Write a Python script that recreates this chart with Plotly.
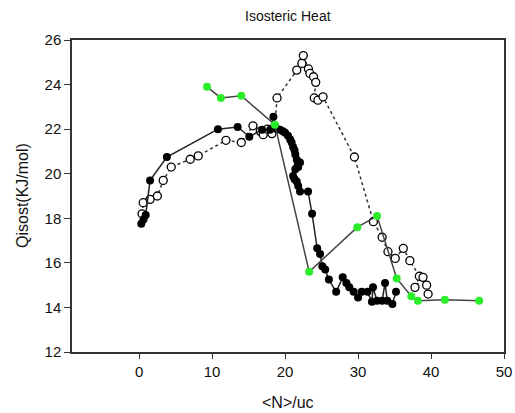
import plotly.graph_objects as go

# Filled black series (solid line)
black_x = [0.3, 0.6, 0.9, 1.5, 3.8, 10.8, 13.5, 15.1, 16.85, 17.95, 18.4, 18.9, 19.3, 19.7, 20.0, 20.4, 20.7, 20.9, 21.1, 21.3,
           21.4, 21.6, 21.8, 22.05, 21.7, 21.4, 21.1, 21.3, 21.6, 21.8, 22.05, 23.15, 23.7, 24.4, 24.8, 25.1, 25.5, 26.0,
           27.0, 27.9, 28.4, 28.8, 29.4, 30.0, 30.5, 31.3, 31.9, 32.05, 32.6, 33.3, 33.7, 34.0, 34.7, 35.2]
black_y = [17.75, 17.95, 18.15, 19.7, 20.75, 22.0, 22.1, 21.66, 21.97, 21.97, 22.56, 22.0, 21.97, 21.9, 21.84, 21.7, 21.53, 21.4,
           21.2, 21.05, 20.86, 20.63, 20.3, 20.5, 20.35, 20.2, 19.9, 19.75, 19.65, 19.45, 19.2, 19.2, 18.2, 16.65, 16.4,
           15.85, 15.7, 15.25, 14.7, 15.35, 15.1, 14.9, 14.7, 14.45, 14.7, 14.7, 14.25, 14.9, 14.3, 14.3, 15.1, 14.3, 14.15, 14.7]

# Open circle series (dotted line)
open_x = [0.4, 0.55, 1.5, 2.5, 3.3, 4.4, 7.0, 8.1, 11.9, 14.0, 15.6, 16.6, 17.0, 17.6, 18.2, 18.6, 18.9, 21.6, 22.3, 22.5,
          23.2, 23.4, 23.9, 24.2, 24.0, 24.5, 25.2, 29.5, 32.1, 33.3, 34.1, 35.1, 36.2, 37.1, 38.4, 37.8, 38.9, 39.4, 39.6]
open_y = [18.2, 18.7, 18.85, 19.0, 19.7, 20.3, 20.65, 20.8, 21.5, 21.4, 22.15, 21.9, 21.75, 22.0, 21.8, 22.1, 23.4, 24.65, 24.95, 25.3,
          24.7, 24.5, 24.35, 24.1, 23.4, 23.3, 23.45, 20.75, 17.85, 17.15, 16.5, 16.2, 16.65, 16.1, 15.4, 14.9, 15.35, 15.0, 14.6]

# Green series (solid line)
green_x = [9.3, 11.2, 14.0, 18.6, 23.3, 29.9, 32.6, 35.3, 37.3, 38.2, 41.9, 46.6]
green_y = [23.9, 23.4, 23.5, 22.2, 15.6, 17.6, 18.1, 15.3, 14.5, 14.3, 14.35, 14.3]

x_ticks = [0, 10, 20, 30, 40, 50]
y_ticks = [12, 14, 16, 18, 20, 22, 24, 26]

fig = go.Figure()
fig.add_trace(go.Scatter(x=open_x, y=open_y, mode="lines+markers",
                         line=dict(color="#333333", width=1.5, dash="dot"),
                         marker=dict(symbol="circle", size=8, color="white",
                                     line=dict(color="black", width=1.3)),
                         showlegend=False))
fig.add_trace(go.Scatter(x=black_x, y=black_y, mode="lines+markers",
                         line=dict(color="#222222", width=1.5),
                         marker=dict(symbol="circle", size=8, color="black"),
                         showlegend=False))
fig.add_trace(go.Scatter(x=green_x, y=green_y, mode="lines+markers",
                         line=dict(color="#444444", width=1.5),
                         marker=dict(symbol="circle", size=8, color="#2bee2b"),
                         showlegend=False))

font = "Liberation Sans, Arial, sans-serif"
L, R, T, B = 72, 11, 40, 61
fig.update_layout(
    width=515, height=413,
    margin=dict(l=L, r=R, t=T, b=B, autoexpand=False),
    paper_bgcolor="white", plot_bgcolor="white",
    font=dict(family=font, size=15, color="#111111"),
    xaxis=dict(range=[-9.2, 50], tickvals=x_ticks, ticks="outside", ticklen=5,
               tickcolor="#333333", showline=True, linecolor="#333333", linewidth=1.5,
               mirror=True, showgrid=False, zeroline=False, automargin=False,
               tickfont=dict(size=15)),
    yaxis=dict(range=[12, 26], tickvals=y_ticks, ticks="outside", ticklen=6,
               tickcolor="#333333", showline=True, linecolor="#333333", linewidth=1.5,
               mirror=True, showgrid=False, zeroline=False, automargin=False,
               tickfont=dict(size=15)),
    annotations=[
        dict(text="Isosteric Heat", xref="paper", yref="paper", x=0.5, y=1,
             yshift=24, xanchor="center", yanchor="middle", showarrow=False,
             font=dict(size=14)),
        dict(text="&lt;N&gt;/uc", xref="paper", yref="paper", x=0.5, y=0,
             yshift=-50, xanchor="center", yanchor="middle", showarrow=False,
             font=dict(size=16)),
        dict(text="Qisost(KJ/mol)", xref="paper", yref="paper", x=0, y=0.5,
             xshift=-50, xanchor="center", yanchor="middle", showarrow=False,
             textangle=-90, font=dict(size=16)),
    ],
)

fig.write_html("out.html", config={"displayModeBar": False},
               post_script="document.body.style.margin='0';document.body.style.overflow='hidden';")
